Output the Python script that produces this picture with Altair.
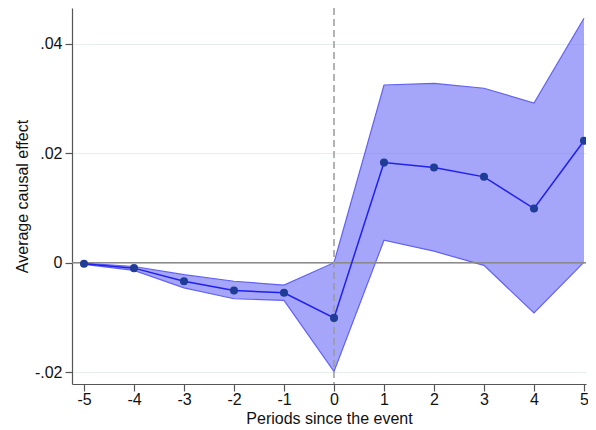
import altair as alt
import pandas as pd

periods = [-5, -4, -3, -2, -1, 0, 1, 2, 3, 4, 5]
effect = [-0.0002, -0.0010, -0.0034, -0.0051, -0.0055, -0.0101, 0.0183, 0.0174, 0.0157, 0.0099, 0.0223]
upper = [-0.0001, -0.0007, -0.0022, -0.0034, -0.0041, 0.0000, 0.0325, 0.0328, 0.0319, 0.0292, 0.0447]
lower = [-0.0003, -0.0014, -0.0046, -0.0066, -0.0069, -0.0199, 0.0041, 0.0021, -0.0005, -0.0092, 0.0001]
y_ticks = [-0.02, 0, 0.02, 0.04]

df = pd.DataFrame({"period": periods, "effect": effect, "upper": upper, "lower": lower})

FONT = "Liberation Sans"
xscale = alt.Scale(domain=[-5.24, 5.04], nice=False, zero=False)
yscale = alt.Scale(domain=[-0.02219, 0.04658], nice=False, zero=False)

xaxis = alt.Axis(values=periods, title="Periods since the event", grid=False,
                 labelExpr="datum.value < 0 ? '-' + abs(datum.value) : '' + datum.value",
                 labelFont=FONT, labelFontSize=16, labelColor="#111",
                 labelBaseline="alphabetic", labelPadding=13, labelFlush=False,
                 titleFont=FONT, titleFontSize=16, titleFontWeight="normal", titleColor="#111",
                 titleBaseline="alphabetic", titleY=39,
                 tickSize=7, tickColor="#555", domainColor="#555")
yaxis = alt.Axis(values=y_ticks, title="Average causal effect", grid=True, gridColor="#e6eeee",
                 gridWidth=1.2,
                 labelExpr="datum.value == 0 ? '0' : (datum.value < 0 ? '-' : '') + replace(format(abs(datum.value), '.2f'), '0.', '.')",
                 labelFont=FONT, labelFontSize=16, labelColor="#111", labelPadding=3,
                 titleFont=FONT, titleFontSize=16, titleFontWeight="normal", titleColor="#111",
                 titleBaseline="alphabetic", titleX=-45,
                 tickSize=7, tickColor="#555", domainColor="#555")

X = alt.X("period:Q", scale=xscale, axis=xaxis)
base = alt.Chart(df)

band = base.mark_area(color="#7474f8", opacity=0.65, clip=True).encode(
    x=X,
    y=alt.Y("upper:Q", scale=yscale, axis=yaxis),
    y2="lower:Q",
)
edge_up = base.mark_line(color="#6262f2", strokeWidth=1.2, clip=True).encode(
    x=X, y=alt.Y("upper:Q", scale=yscale, axis=yaxis)
)
edge_lo = base.mark_line(color="#6262f2", strokeWidth=1.2, clip=True).encode(
    x=X, y=alt.Y("lower:Q", scale=yscale, axis=yaxis)
)

zero_df = pd.DataFrame({"y": [0]})
zero_line = alt.Chart(zero_df).mark_rule(color="#8a8a8a", strokeWidth=1.5).encode(
    y=alt.Y("y:Q", scale=yscale, axis=yaxis)
)
vline_df = pd.DataFrame({"x": [0]})
vline = alt.Chart(vline_df).mark_rule(color="#9a9a9a", strokeWidth=1.5, strokeDash=[7, 4]).encode(
    x=alt.X("x:Q", scale=xscale, axis=xaxis)
)

line = base.mark_line(color="#2020ee", strokeWidth=1.5, clip=True).encode(
    x=X,
    y=alt.Y("effect:Q", scale=yscale, axis=yaxis),
)
points = base.mark_circle(color="#1f3c96", opacity=1, size=65, clip=True).encode(
    x=X,
    y=alt.Y("effect:Q", scale=yscale, axis=yaxis),
)

chart = alt.layer(band, edge_up, edge_lo, zero_line, vline, line, points).properties(
    width=514, height=376,
    autosize=alt.AutoSizeParams(type="none"),
    padding={"left": 64, "top": 0, "right": 2, "bottom": 43},
).configure_view(stroke=None).configure_axis(domainWidth=1.2, tickWidth=1.2)

chart.save("out.html", embed_options={"renderer": "svg", "actions": False})
